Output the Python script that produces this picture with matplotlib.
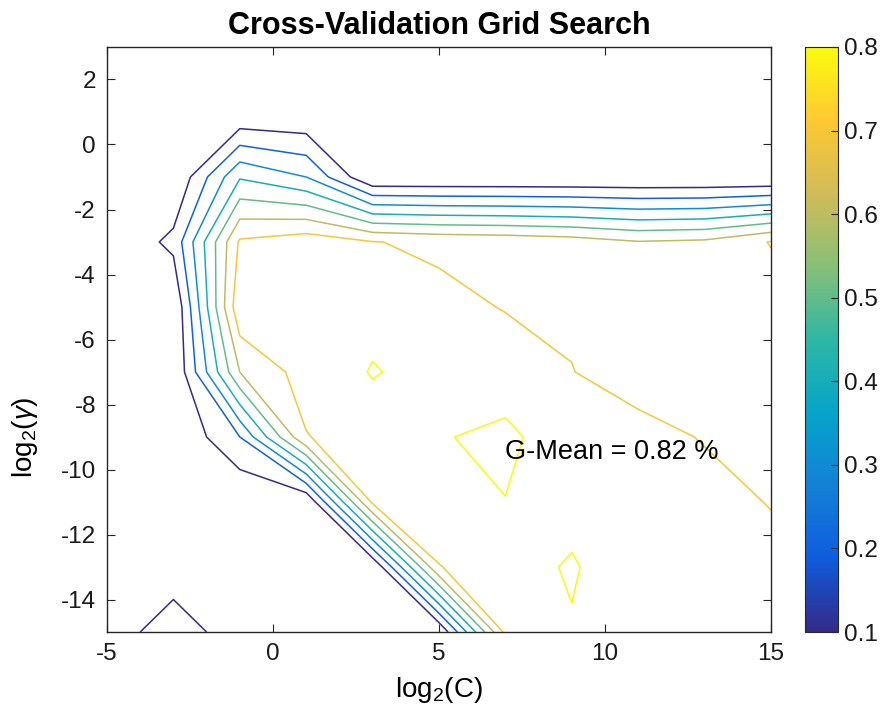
import numpy as np
import matplotlib.pyplot as plt
from matplotlib.colors import LinearSegmentedColormap, Normalize
from matplotlib.cm import ScalarMappable

plt.rcParams['font.family'] = ['Liberation Sans', 'DejaVu Sans']
plt.rcParams['mathtext.fontset'] = 'custom'
plt.rcParams['mathtext.rm'] = 'Liberation Sans'
plt.rcParams['mathtext.it'] = 'Liberation Sans:italic'
plt.rcParams['axes.unicode_minus'] = False

# grid of the search (log2 scale)
log2_c = [-5, -3, -1, 1, 3, 5, 7, 9, 11, 13, 15]
log2_gamma = [-15, -13, -11, -9, -7, -5, -3, -1, 1, 3]

# G-mean for each log2(gamma) row, columns follow log2_c
gm_gamma_m15 = [0.0, 0.2, 0.0, 0.0, 0.0, 0.0, 0.725, 0.796, 0.76, 0.75, 0.75]
gm_gamma_m13 = [0.0, 0.0, 0.0, 0.0, 0.0, 0.695, 0.78, 0.805, 0.765, 0.76, 0.749]
gm_gamma_m11 = [0.0, 0.0, 0.0, 0.0, 0.718, 0.79, 0.798, 0.783, 0.77, 0.752, 0.693]
gm_gamma_m9 = [0.0, 0.0, 0.2, 0.695, 0.76, 0.794, 0.82, 0.746, 0.75, 0.691, 0.66]
gm_gamma_m7 = [0.0, 0.0, 0.6, 0.745, 0.805, 0.772, 0.753, 0.7035, 0.633, 0.65, 0.65]
gm_gamma_m5 = [0.0, 0.0, 0.78, 0.77, 0.774, 0.73, 0.695, 0.68, 0.64, 0.64, 0.65]
gm_gamma_m3 = [0.0, 0.127, 0.715, 0.76, 0.704, 0.68, 0.67, 0.65, 0.606, 0.62, 0.705]
gm_gamma_m1 = [0.0, 0.0, 0.39, 0.30, 0.0, 0.0, 0.0, 0.0, 0.0, 0.0, 0.0]
gm_gamma_p1 = [0.0] * 11
gm_gamma_p3 = [0.0] * 11

levels = [0.1, 0.2, 0.3, 0.4, 0.5, 0.6, 0.7, 0.8]
best_text = 'G-Mean = 0.82 %'

gmean = np.array([gm_gamma_m15, gm_gamma_m13, gm_gamma_m11, gm_gamma_m9, gm_gamma_m7,
                  gm_gamma_m5, gm_gamma_m3, gm_gamma_m1, gm_gamma_p1, gm_gamma_p3])
C, G = np.meshgrid(log2_c, log2_gamma)

# approximation of MATLAB parula
parula = LinearSegmentedColormap.from_list('parula', [
    '#352a87', '#0f5cdd', '#1481d6', '#06a4ca', '#2eb7a4',
    '#87bf77', '#d1bb59', '#fec832', '#f9fb0e'])
norm = Normalize(vmin=0.1, vmax=0.8)

fig = plt.figure(figsize=(8.88, 7.11), dpi=100)
ax = fig.add_axes([0.1205, 0.1111, 0.7477, 0.8228])
ax.contour(C, G, gmean, levels=levels, cmap=parula, norm=norm, linewidths=1.1)

ax.set_xlim(-5, 15)
ax.set_ylim(-15, 3)
ax.set_xticks([-5, 0, 5, 10, 15])
ax.set_yticks(range(-14, 3, 2))
ax.tick_params(direction='in', top=True, right=True, labelsize=17.5, length=6,
               colors='#262626', labelcolor='#1a1a1a', pad=8)
for s in ax.spines.values():
    s.set_color('#262626')
    s.set_linewidth(1.0)

ax.set_title('Cross-Validation Grid Search', fontsize=22, fontweight='bold', pad=9)
ax.set_xlabel('log$_2$(C)', fontsize=20, labelpad=7)
ax.set_ylabel(r'log$_2$($\gamma$)', fontsize=20)
ax.yaxis.set_label_coords(-0.101, 0.333)
ax.text(7.0, -9.45, best_text, fontsize=19.5, ha='left', va='center')

cax = fig.add_axes([0.9065, 0.1111, 0.0372, 0.8228])
sm = ScalarMappable(norm=norm, cmap=parula)
cb = fig.colorbar(sm, cax=cax, ticks=levels)
cb.ax.tick_params(direction='in', labelsize=17.5, length=5, colors='#262626',
                  labelcolor='#1a1a1a', pad=4)
cb.outline.set_edgecolor('#262626')
cb.ax.set_yticklabels(['%.1f' % v for v in levels])

fig.savefig('out.png', dpi=100)
